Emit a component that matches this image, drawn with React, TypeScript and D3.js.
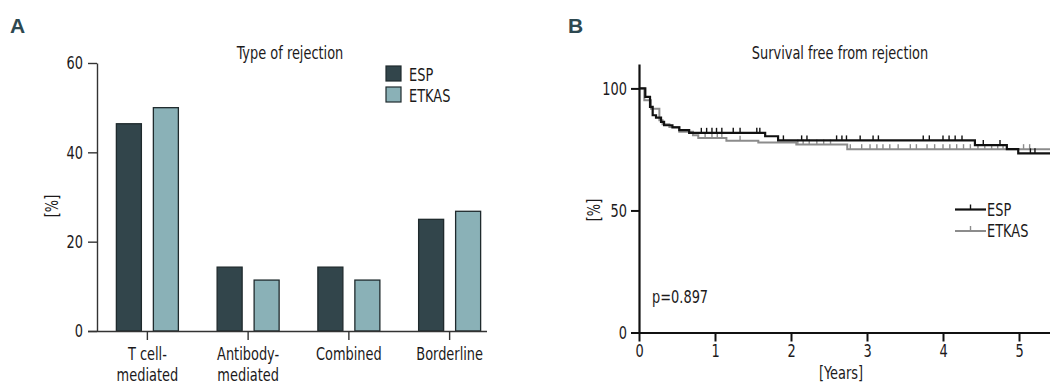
import React, { useEffect, useRef } from 'react';
import * as d3 from 'd3';

// panel A: type of rejection [%]
const categories = ['T cell-mediated', 'Antibody-mediated', 'Combined', 'Borderline'];
const categoryLines = [['T cell-', 'mediated'], ['Antibody-', 'mediated'], ['Combined'], ['Borderline']];
const groups = ['ESP', 'ETKAS'];
const espPct = [46.4, 14.3, 14.3, 25.0];
const etkasPct = [50.0, 11.4, 11.4, 26.8];
const yTicksA = [0, 20, 40, 60];

// panel B: survival free from rejection (Kaplan-Meier steps)
const espTimes = [0, 0.083, 0.145, 0.18, 0.224, 0.29, 0.33, 0.44, 0.53, 0.66, 1.66, 1.83, 4.42, 4.84, 4.99];
const espSurv = [100, 96.5, 92.4, 89.0, 88.0, 86.3, 84.9, 84.0, 82.9, 81.8, 80.4, 78.7, 76.8, 75.1, 73.4];
const etkasTimes = [0, 0.07, 0.158, 0.268, 0.31, 0.4, 0.53, 0.71, 0.78, 1.15, 1.57, 2.07, 2.74];
const etkasSurv = [100, 95.2, 91.7, 87.0, 85.3, 84.2, 82.2, 80.8, 79.7, 78.6, 77.8, 77.0, 75.1];
const espCensor = [0.82, 0.89, 0.96, 1.02, 1.09, 1.24, 1.33, 1.55, 1.59, 1.9, 2.14, 2.21, 2.6, 2.67, 2.73, 2.91, 3.08, 3.15, 3.74, 3.82, 4.0, 4.08, 4.16, 4.25, 4.53, 4.75, 5.15, 5.21];
const etkasCensor = [0.87, 0.96, 1.03, 1.09, 1.33, 2.09, 2.16, 2.24, 2.34, 2.43, 2.52, 2.78, 2.93, 3.04, 3.13, 3.21, 3.3, 3.41, 3.57, 3.65, 3.79, 3.89, 4.0, 4.09, 4.18, 4.27, 4.36, 4.46, 4.55, 4.64, 4.72, 4.79, 5.06, 5.14];
const followUpEnd = 5.5;
const xTicksB = [0, 1, 2, 3, 4, 5];
const yTicksB = [0, 50, 100];

const FONT = "'DejaVu Sans Condensed', 'Liberation Sans Narrow', sans-serif";
const FS = 18;
const SQUEEZE = 0.8; // reference uses a very condensed face
const TEXT = '#1c1a1b';
const DARK = '#32454b';
const LIGHT = '#8ab1b7';

// turn x/y into a transform so the glyphs can be squeezed horizontally
function narrow(sel: d3.Selection<any, any, any, any>) {
  sel.each(function () {
    const t = d3.select(this);
    const x = +(t.attr('x') || 0);
    const y = +(t.attr('y') || 0);
    const prev = t.attr('transform') || '';
    t.attr('x', null).attr('y', null)
      .attr('transform', `${prev} translate(${x},${y}) scale(${SQUEEZE},1)`)
      .attr('font-family', FONT).attr('font-size', FS).attr('fill', TEXT);
  });
}

export default function App() {
  const ref = useRef<SVGSVGElement>(null);

  useEffect(() => {
    const svg = d3.select(ref.current);
    svg.selectAll('*').remove();

    // panel letters
    svg.append('text').attr('x', 10).attr('y', 33).text('A')
      .attr('font-family', "'Liberation Sans', sans-serif").attr('font-weight', 700)
      .attr('font-size', 21).attr('fill', '#2d4850');
    svg.append('text').attr('x', 568).attr('y', 33).text('B')
      .attr('font-family', "'Liberation Sans', sans-serif").attr('font-weight', 700)
      .attr('font-size', 21).attr('fill', '#2d4850');

    // ---------- panel A ----------
    const a = svg.append('g');
    const yA = d3.scaleLinear().domain([0, 60]).range([331, 63]);
    const xA = d3.scaleBand<string>().domain(categories).range([97, 500]).padding(0);
    const xSub = d3.scaleBand<string>().domain(groups).range([0, 62]).paddingInner(0.324);
    const half = 31;

    const rows = categories.map((c, i) => ({ c, vals: [espPct[i], etkasPct[i]] }));
    const cg = a.selectAll('g.cat').data(rows).enter().append('g')
      .attr('transform', d => `translate(${xA(d.c)! + xA.bandwidth() / 2 - half},0)`);
    cg.selectAll('rect').data(d => d.vals.map((v, j) => ({ g: groups[j], v }))).enter().append('rect')
      .attr('x', d => xSub(d.g)!)
      .attr('width', xSub.bandwidth())
      .attr('y', d => yA(d.v))
      .attr('height', d => yA(0) - yA(d.v))
      .attr('fill', d => (d.g === 'ESP' ? DARK : LIGHT))
      .attr('stroke', '#1f2a2d').attr('stroke-width', 1.3);

    const yAxA = a.append('g').attr('transform', 'translate(97,0)')
      .call(d3.axisLeft(yA).tickValues(yTicksA).tickSize(9).tickPadding(5).tickSizeOuter(0));
    yAxA.select('.domain').attr('stroke', '#333').attr('stroke-width', 1.4);
    yAxA.selectAll('.tick line').attr('stroke', '#333').attr('stroke-width', 1.4);
    narrow(yAxA.selectAll('.tick text'));

    const xAxA = a.append('g').attr('transform', 'translate(0,331)')
      .call(d3.axisBottom(xA).tickSize(9).tickSizeOuter(0).tickFormat(() => ''));
    xAxA.select('.domain').attr('d', 'M88,0.5H487').attr('stroke', '#333').attr('stroke-width', 1.4);
    xAxA.selectAll('.tick line').attr('stroke', '#333').attr('stroke-width', 1.4);
    xAxA.selectAll('.tick').each(function (_d, i) {
      const t = d3.select(this).append('text').attr('text-anchor', 'middle');
      categoryLines[i].forEach((ln, k) => {
        t.append('tspan').attr('x', 0).attr('y', 29 + k * 21).text(ln);
      });
      narrow(t);
    });

    narrow(a.append('text').attr('transform', 'translate(58,206) rotate(-90)').attr('text-anchor', 'middle').text('[%]'));
    narrow(a.append('text').attr('x', 290).attr('y', 59).attr('text-anchor', 'middle').text('Type of rejection'));

    const legA = a.selectAll('g.leg').data(groups).enter().append('g')
      .attr('transform', (_d, i) => `translate(386,${66 + i * 21})`);
    legA.append('rect').attr('width', 15).attr('height', 15)
      .attr('fill', d => (d === 'ESP' ? DARK : LIGHT)).attr('stroke', '#1f2a2d').attr('stroke-width', 1.2);
    narrow(legA.append('text').attr('x', 23).attr('y', 14.5).text(d => d));

    // ---------- panel B ----------
    const b = svg.append('g');
    const xB = d3.scaleLinear().domain([0, followUpEnd]).range([639, 1057]);
    const yB = d3.scaleLinear().domain([0, 110]).range([332.5, 64]);

    const series = [
      { name: 'ESP', times: espTimes, surv: espSurv, censor: espCensor, color: '#111', width: 2.2 },
      { name: 'ETKAS', times: etkasTimes, surv: etkasSurv, censor: etkasCensor, color: '#8c8c8c', width: 2 },
    ];
    const line = d3.line<[number, number]>().x(d => xB(d[0])).y(d => yB(d[1])).curve(d3.curveStepAfter);
    const survAt = (s: typeof series[0], t: number) => {
      const i = d3.bisectRight(s.times, t) - 1;
      return s.surv[Math.max(0, i)];
    };

    // draw grey first so black sits on top
    [series[1], series[0]].forEach(s => {
      const pts: [number, number][] = s.times.map((t, i) => [t, s.surv[i]]);
      pts.push([followUpEnd, s.surv[s.surv.length - 1]]);
      b.append('path').attr('d', line(pts)).attr('fill', 'none')
        .attr('stroke', s.color).attr('stroke-width', s.width);
      b.selectAll(null).data(s.censor).enter().append('line')
        .attr('x1', d => xB(d)).attr('x2', d => xB(d))
        .attr('y1', d => yB(survAt(s, d))).attr('y2', d => yB(survAt(s, d)) - 5)
        .attr('stroke', s.color).attr('stroke-width', 1.4);
    });

    const yAxB = b.append('g').attr('transform', 'translate(639,0)')
      .call(d3.axisLeft(yB).tickValues(yTicksB).tickSize(8).tickPadding(4).tickSizeOuter(0));
    yAxB.select('.domain').attr('stroke', '#111').attr('stroke-width', 2.2);
    yAxB.selectAll('.tick line').attr('stroke', '#111').attr('stroke-width', 2);
    narrow(yAxB.selectAll('.tick text'));

    const xAxB = b.append('g').attr('transform', 'translate(0,332.5)')
      .call(d3.axisBottom(xB).tickValues(xTicksB).tickSize(9).tickPadding(3).tickSizeOuter(0).tickFormat(d3.format('d')));
    xAxB.select('.domain').attr('stroke', '#111').attr('stroke-width', 2.2);
    xAxB.selectAll('.tick line').attr('stroke', '#111').attr('stroke-width', 2);
    narrow(xAxB.selectAll('.tick text'));

    narrow(b.append('text').attr('x', 841).attr('y', 379).attr('text-anchor', 'middle').text('[Years]'));
    narrow(b.append('text').attr('transform', 'translate(600,210) rotate(-90)').attr('text-anchor', 'middle').text('[%]'));
    narrow(b.append('text').attr('x', 840).attr('y', 59).attr('text-anchor', 'middle').text('Survival free from rejection'));
    narrow(b.append('text').attr('x', 652).attr('y', 303).text('p=0.897'));

    const legB = b.selectAll('g.legb').data(series).enter().append('g')
      .attr('transform', (_d, i) => `translate(955,${209.5 + i * 21.5})`);
    legB.append('line').attr('x1', 0).attr('x2', 31).attr('stroke', d => d.color).attr('stroke-width', d => d.width);
    legB.append('line').attr('x1', 15.5).attr('x2', 15.5).attr('y1', 0).attr('y2', -5)
      .attr('stroke', d => d.color).attr('stroke-width', 1.4);
    narrow(legB.append('text').attr('x', 32).attr('y', 6).text(d => d.name));
  }, []);

  return (
    <svg ref={ref} width={1050} height={384} viewBox="0 0 1050 384"
      style={{ position: 'absolute', left: 0, top: 0, background: '#fff' }} />
  );
}
